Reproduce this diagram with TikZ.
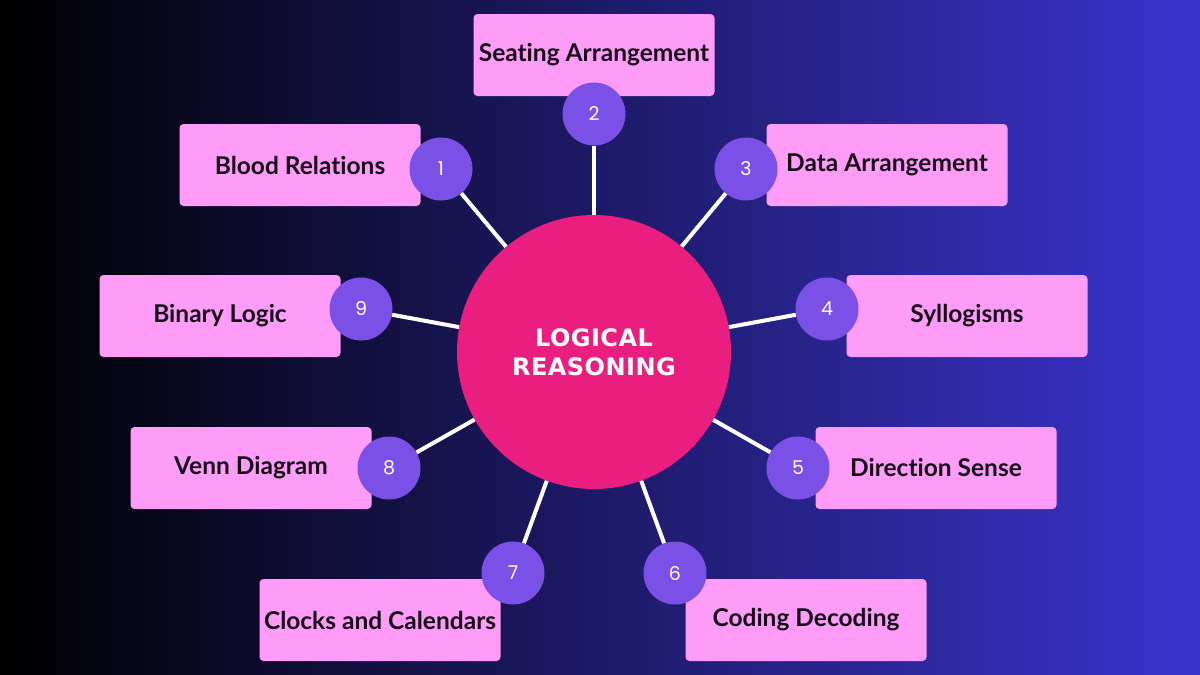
\documentclass[tikz,border=0pt]{standalone}
\usepackage{fontspec}
\setmainfont{Lato}[Ligatures=NoCommon]
\newfontfamily\hubfont[LetterSpace=2]{DejaVu Sans}
\newfontfamily\numfont{Poppins}
\definecolor{boxpink}{HTML}{FF9CF7}
\definecolor{hubpink}{HTML}{E91E7F}
\definecolor{numpurple}{HTML}{7B50E6}
\definecolor{bgmid}{HTML}{1B1B62}
\definecolor{bgright}{HTML}{3A34CE}
\definecolor{inkdark}{HTML}{140A18}
\begin{document}
\begin{tikzpicture}[x=1pt,y=-1pt,
    topic/.style={rectangle,rounded corners=4pt,fill=boxpink,text=inkdark,minimum width=241pt,minimum height=82pt,inner sep=0pt,font=\bfseries\fontsize{24.5}{28}\selectfont},
    badge/.style={circle,fill=numpurple,text=white,minimum size=63pt,inner sep=0pt,font=\numfont\fontsize{19}{19}\selectfont},
    hub/.style={circle,fill=hubpink,text=white,minimum size=274pt,inner sep=0pt,align=center,font=\hubfont\bfseries\fontsize{24}{29}\selectfont},
    spoke/.style={draw=white,line width=4pt}]
    \useasboundingbox (0,0) rectangle (1200,675);
    \shade[left color=black,middle color=bgmid,right color=bgright] (0,0) rectangle (1200,675);
    % boxes
    \node[topic] (seating) at (594,55) {Seating Arrangement};
    \node[topic] (blood) at (300,165) {Blood Relations};
    \node[topic] (data) at (887,165) {Data Arrangement};
    \node[topic] (syllog) at (967,316) {Syllogisms};
    \node[topic] (direction) at (936,468) {Direction Sense};
    \node[topic] (coding) at (806,620) {Coding Decoding};
    \node[topic] (clocks) at (380,620) {Clocks and Calendars};
    \node[topic] (venn) at (251,468) {Venn Diagram};
    \node[topic] (binary) at (220,316) {Binary Logic};
    % centre
    \node[hub] (hub) at (594,352) {LOGICAL\\REASONING};
    % numbers
    \node[badge] (n1) at (441,169) {1};
    \node[badge] (n2) at (594,114) {2};
    \node[badge] (n3) at (746,169) {3};
    \node[badge] (n4) at (827,309) {4};
    \node[badge] (n5) at (798,468) {5};
    \node[badge] (n6) at (675,573) {6};
    \node[badge] (n7) at (513,573) {7};
    \node[badge] (n8) at (389,468) {8};
    \node[badge] (n9) at (361,309) {9};
    \draw[spoke] (n1)--(hub);
    \draw[spoke] (n2)--(hub);
    \draw[spoke] (n3)--(hub);
    \draw[spoke] (n4)--(hub);
    \draw[spoke] (n5)--(hub);
    \draw[spoke] (n6)--(hub);
    \draw[spoke] (n7)--(hub);
    \draw[spoke] (n8)--(hub);
    \draw[spoke] (n9)--(hub);
\end{tikzpicture}
\end{document}
